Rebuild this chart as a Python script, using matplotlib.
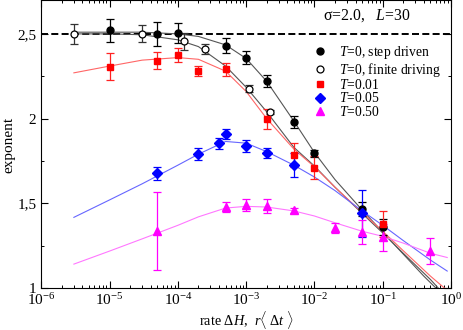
import numpy as np
import matplotlib
matplotlib.use('Agg')
import matplotlib.pyplot as plt
from matplotlib.ticker import MultipleLocator, LogLocator, NullFormatter

plt.rcParams['font.family'] = ['Liberation Serif', 'DejaVu Serif']
plt.rcParams['mathtext.fontset'] = 'custom'
plt.rcParams['mathtext.rm'] = 'Liberation Serif'
plt.rcParams['mathtext.it'] = 'Liberation Serif:italic'
plt.rcParams['font.size'] = 9.8

# T=0, step driven
x_step = [1e-5, 5e-5, 1e-4, 5e-4, 1e-3, 2e-3, 5e-3, 1e-2, 5e-2, 1e-1]
y_step = [2.52, 2.50, 2.505, 2.43, 2.36, 2.22, 1.98, 1.795, 1.465, 1.36]
e_step = [0.07, 0.072, 0.06, 0.045, 0.04, 0.035, 0.035, 0.02, 0.04, 0.045]

# T=0, finite driving
x_fin = [3e-6, 3e-5, 1.25e-4, 2.5e-4, 1.1e-3, 2.2e-3]
y_fin = [2.50, 2.50, 2.457, 2.41, 2.177, 2.04]
e_fin = [0.06, 0.05, 0.05, 0.03, 0.02, 0.012]

# T=0.01
x_t1 = [1e-5, 5e-5, 1e-4, 2e-4, 5e-4, 2e-3, 5e-3, 1e-2, 1e-1]
y_t1 = [2.306, 2.342, 2.375, 2.28, 2.29, 1.998, 1.786, 1.711, 1.377]
e_t1 = [0.08, 0.05, 0.04, 0.03, 0.04, 0.06, 0.07, 0.07, 0.075]

# T=0.05
x_t2 = [5e-5, 2e-4, 4e-4, 5e-4, 1e-3, 2e-3, 5e-3, 5e-2]
y_t2 = [1.676, 1.79, 1.853, 1.907, 1.837, 1.797, 1.727, 1.44]
e_t2 = [0.04, 0.035, 0.03, 0.03, 0.035, 0.03, 0.07, 0.14]

# T=0.50
x_t3 = [5e-5, 5e-4, 1e-3, 2e-3, 5e-3, 2e-2, 5e-2, 1e-1, 5e-1]
y_t3 = [1.334, 1.477, 1.489, 1.485, 1.46, 1.352, 1.332, 1.30, 1.218]
e_t3 = [0.23, 0.03, 0.035, 0.04, 0.015, 0.03, 0.07, 0.08, 0.075]

# fit curves
fx_step = [3e-6, 1e-5, 3e-5, 1e-4, 2e-4, 5e-4, 1e-3, 2e-3, 5e-3, 1e-2, 2e-2, 5e-2, 1e-1, 2e-1, 4e-1, 6e-1]
fy_step = [2.51, 2.51, 2.51, 2.50, 2.485, 2.435, 2.355, 2.22, 1.985, 1.80, 1.64, 1.46, 1.33, 1.20, 1.07, 1.0]
fx_fin = [3e-6, 1e-5, 3e-5, 1e-4, 2e-4, 5e-4, 1e-3, 2e-3, 5e-3, 1e-2, 2e-2, 5e-2, 1e-1, 2e-1, 5e-1, 6.5e-1]
fy_fin = [2.50, 2.50, 2.495, 2.465, 2.425, 2.31, 2.185, 2.04, 1.83, 1.72, 1.595, 1.44, 1.325, 1.205, 1.05, 1.0]
fx_t1 = [3e-6, 1e-5, 3e-5, 1e-4, 2e-4, 5e-4, 1e-3, 2e-3, 5e-3, 1e-2, 2e-2, 5e-2, 1e-1, 2e-1, 5e-1, 8e-1]
fy_t1 = [2.27, 2.31, 2.345, 2.36, 2.35, 2.28, 2.16, 2.0, 1.82, 1.715, 1.595, 1.445, 1.335, 1.22, 1.07, 1.0]
fx_t2 = [3e-6, 1e-5, 3e-5, 1e-4, 2e-4, 5e-4, 1e-3, 2e-3, 5e-3, 1e-2, 2e-2, 5e-2, 1e-1, 2e-1, 5e-1, 8.8e-1]
fy_t2 = [1.417, 1.52, 1.615, 1.725, 1.79, 1.865, 1.855, 1.805, 1.725, 1.655, 1.575, 1.455, 1.37, 1.28, 1.165, 1.10]
fx_t3 = [3e-6, 1e-5, 3e-5, 1e-4, 2e-4, 5e-4, 1e-3, 2e-3, 5e-3, 1e-2, 2e-2, 5e-2, 1e-1, 2e-1, 5e-1, 8.8e-1]
fy_t3 = [1.141, 1.218, 1.29, 1.37, 1.42, 1.472, 1.482, 1.478, 1.455, 1.425, 1.385, 1.335, 1.305, 1.265, 1.205, 1.18]

yticks = [1, 1.5, 2, 2.5]
yticklabels = ['1', '1,5', '2', '2,5']

fig = plt.figure(figsize=(4.63, 3.30), dpi=100)
ax = fig.add_axes([41.3/463, 42/330, (451-41.3)/463, 288/330])

ax.axhline(2.5, color='black', lw=1.4, ls=(0, (3.6, 1.7)), zorder=1)

ax.plot(fx_step, fy_step, color='#555555', lw=0.8, zorder=2)
ax.plot(fx_fin, fy_fin, color='#555555', lw=0.8, zorder=2)
ax.plot(fx_t1, fy_t1, color='#ff6666', lw=0.8, zorder=2)
ax.plot(fx_t2, fy_t2, color='#6666ff', lw=0.8, zorder=2)
ax.plot(fx_t3, fy_t3, color='#ff77ff', lw=0.8, zorder=2)

eb = dict(fmt='none', capsize=3.2, elinewidth=0.9, capthick=0.9, zorder=3)
ax.errorbar(x_step, y_step, yerr=e_step, ecolor='black', **eb)
ax.errorbar(x_fin, y_fin, yerr=e_fin, ecolor='#333333', **eb)
ax.errorbar(x_t1, y_t1, yerr=e_t1, ecolor='#ff2222', **eb)
ax.errorbar(x_t2, y_t2, yerr=e_t2, ecolor='#0000ff', **eb)
ax.errorbar(x_t3, y_t3, yerr=e_t3, ecolor='#ff00ff', **eb)

ax.plot(x_step, y_step, 'o', color='black', ms=5, zorder=4, label='$T$=0, step driven')
ax.plot(x_fin, y_fin, 'o', mfc='white', mec='black', mew=0.9, ms=5, zorder=4,
        label='$T$=0, finite driving')
ax.plot(x_t1, y_t1, 's', color='#ff0000', ms=5, zorder=4, label='$T$=0.01')
ax.plot(x_t2, y_t2, 'D', color='#0000ff', ms=5, zorder=4, label='$T$=0.05')
ax.plot(x_t3, y_t3, '^', color='#ff00ff', ms=5.5, zorder=4, label='$T$=0.50')

ax.set_xscale('log')
ax.set_xlim(1e-6, 1)
ax.set_ylim(1, 2.7)
ax.set_yticks(yticks)
ax.set_yticklabels(yticklabels)
ax.yaxis.set_minor_locator(MultipleLocator(0.25))
ax.xaxis.set_major_locator(LogLocator(base=10, numticks=10))
ax.xaxis.set_minor_locator(LogLocator(base=10, subs=np.arange(2, 10), numticks=20))
ax.xaxis.set_minor_formatter(NullFormatter())
ax.tick_params(which='both', direction='in', top=True, right=True, labelsize=11)
ax.tick_params(which='major', length=5, width=0.8)
ax.tick_params(which='minor', length=2.5, width=0.7)
ax.tick_params(axis='x', pad=3)

ax.set_xlabel(r'rate $\Delta H$,  $r\langle\ \Delta t\ \rangle$', fontsize=10.3)
ax.xaxis.set_label_coords(0.4997, -0.072)
ax.set_ylabel('exponent', fontsize=11)
ax.yaxis.set_label_coords(-0.064, 0.497)

ax.text(0.6876, 0.944, r'σ=2.0,   $L$=30', transform=ax.transAxes, ha='left', va='center',
        fontsize=11.3)

ax.legend(loc='upper left', bbox_to_anchor=(0.663, 0.847), frameon=False,
          handlelength=1.0, handletextpad=0.9, labelspacing=-0.04, borderaxespad=0,
          borderpad=0)

fig.savefig('out.png', dpi=100)
